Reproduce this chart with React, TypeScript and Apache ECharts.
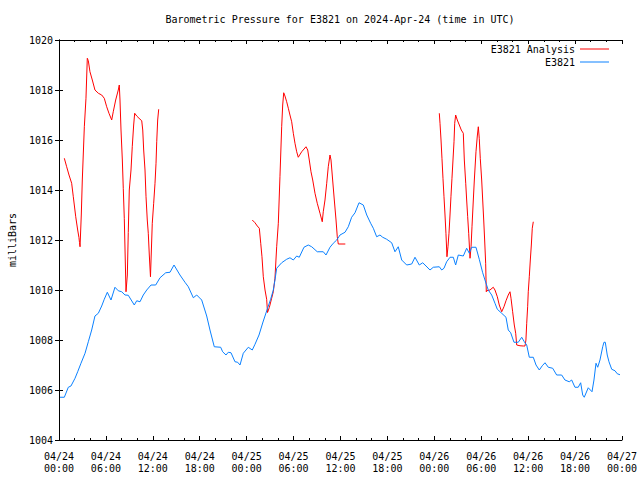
import React, { useEffect, useRef } from "react";
import * as echarts from "echarts";

const chartTitle = "Barometric Pressure for E3821 on 2024-Apr-24 (time in UTC)";
const yAxisTitle = "milliBars";
const seriesNames = ["E3821 Analysis", "E3821"];
const yTicks = [1004, 1006, 1008, 1010, 1012, 1014, 1016, 1018, 1020];

// hours since 2024-04-24 00:00 UTC
const analysisHours: (number | null)[] = [
  0.68, 0.98, 1.28, 1.62, 1.83, 2.14, 2.39, 2.55, 2.62, 2.69, 2.85, 2.98, 3.24, 3.45, 3.62, 3.75, 3.96, 4.26, 4.6, 5.03,
  5.46, 5.79, 6.1, 6.39, 6.74, 6.94, 7.25, 7.58, 7.71, 7.8, 7.93, 8.1, 8.22, 8.35, 8.46, 8.57, 8.74, 8.86, 8.99, 9.21,
  9.37, 9.55, 9.68, 9.94, 10.23, 10.58, 10.71, 10.83, 11.0, 11.13, 11.29, 11.42, 11.55, 11.7, 11.93, 12.11, 12.28, 12.41,
  12.5, 12.62, 12.75,
  null,
  24.72, 25.07, 25.36, 25.62, 25.8, 25.96, 26.13, 26.35, 26.56, 26.67, 26.9, 27.2, 27.41, 27.62, 27.84, 28.05, 28.26,
  28.48, 28.61, 28.74, 28.9, 29.12, 29.33, 29.54, 29.76, 29.97, 30.18, 30.4, 30.6, 31.04, 31.59, 31.81, 32.01, 32.23,
  32.45, 32.74, 33.03, 33.38, 33.67, 33.8, 34.02, 34.24, 34.44, 34.66, 34.79, 35.0, 35.21, 35.43, 35.59, 35.72, 36.62,
  null,
  48.64, 48.73, 48.86, 48.98, 49.11, 49.24, 49.37, 49.49, 49.62, 49.75, 49.88, 50.01, 50.13, 50.26, 50.39, 50.52, 50.61,
  50.73, 50.94, 51.2, 51.45, 51.71, 51.84, 52.02, 52.14, 52.27, 52.4, 52.57, 52.7, 52.82, 52.99, 53.12, 53.33, 53.5,
  53.63, 53.75, 53.88, 54.06, 54.19, 54.32, 54.44, 54.57, 54.65, 54.7, 55.12, 55.54, 55.76, 56.06, 56.31, 56.62, 56.91,
  57.17, 57.46, 57.68, 57.81, 58.02, 58.23, 58.41, 58.54, 58.96, 59.38, 59.6, 59.72, 59.82, 59.94, 60.02, 60.15, 60.28,
  60.41, 60.53, 60.66,
];
const analysisPressure: (number | null)[] = [
  1015.27, 1014.93, 1014.6, 1014.27, 1013.73, 1012.93, 1012.4, 1012.1, 1011.9, 1011.73, 1013.0, 1014.4, 1016.53, 1017.67,
  1019.27, 1019.17, 1018.73, 1018.4, 1018.0, 1017.87, 1017.8, 1017.67, 1017.33, 1017.07, 1016.8, 1017.13, 1017.6, 1018.0,
  1018.2, 1017.6, 1016.4, 1015.2, 1014.07, 1012.87, 1011.4, 1009.93, 1010.6, 1012.3, 1014.0, 1014.8, 1015.73, 1016.6,
  1017.07, 1016.96, 1016.87, 1016.77, 1016.4, 1015.6, 1014.8, 1013.73, 1012.8, 1012.27, 1011.4, 1010.53, 1012.67,
  1013.47, 1014.27, 1015.07, 1015.93, 1016.8, 1017.23,
  null,
  1012.8, 1012.69, 1012.56, 1012.47, 1011.87, 1011.33, 1010.53, 1010.0, 1009.63, 1009.1, 1009.3, 1009.67, 1009.93,
  1010.47, 1011.73, 1012.67, 1014.53, 1016.53, 1017.4, 1017.89, 1017.76, 1017.53, 1017.27, 1017.0, 1016.73, 1016.27,
  1015.87, 1015.53, 1015.31, 1015.53, 1015.73, 1015.6, 1015.2, 1014.73, 1014.4, 1013.87, 1013.47, 1013.07, 1012.73,
  1013.13, 1013.6, 1014.27, 1014.93, 1015.4, 1015.2, 1014.4, 1013.6, 1012.8, 1012.13, 1011.84, 1011.84,
  null,
  1017.07, 1016.67, 1016.0, 1015.27, 1014.47, 1013.73, 1013.0, 1012.27, 1011.33, 1011.73, 1012.27, 1013.0, 1013.73,
  1014.47, 1015.2, 1015.93, 1016.67, 1017.0, 1016.8, 1016.6, 1016.4, 1016.27, 1015.2, 1014.27, 1013.6, 1012.93, 1012.27,
  1011.27, 1011.73, 1012.53, 1013.6, 1014.4, 1015.53, 1016.16, 1016.53, 1016.07, 1015.27, 1014.4, 1013.6, 1012.8,
  1012.0, 1011.07, 1009.93, 1009.97, 1010.0, 1010.11, 1010.0, 1009.73, 1009.4, 1009.13, 1009.33, 1009.57, 1009.8,
  1009.93, 1009.67, 1009.13, 1008.6, 1008.27, 1007.8, 1007.77, 1007.76, 1007.76, 1008.0, 1008.67, 1009.33, 1009.93,
  1010.53, 1011.2, 1011.8, 1012.47, 1012.73,
];

const stationHours: number[] = [
  0.13, 0.68, 1.19, 1.53, 2.05, 2.39, 2.81, 3.33, 3.75, 4.18, 4.6, 5.03, 5.46, 5.79, 6.18, 6.65, 7.16, 7.58, 8.02, 8.44,
  8.86, 9.63, 9.94, 10.36, 10.78, 11.22, 11.77, 12.37, 12.92, 13.65, 14.2, 14.71, 15.47, 16.11, 16.54, 17.18, 17.61,
  18.25, 18.89, 19.31, 19.86, 20.68, 20.93, 21.36, 21.65, 22.0, 22.51, 22.85, 23.15, 23.57, 24.21, 24.72, 25.07, 25.58,
  26.09, 26.6, 27.07, 27.41, 27.62, 27.84, 28.48, 29.12, 29.54, 29.97, 30.4, 30.73, 31.33, 31.88, 32.32, 33.03, 33.8,
  34.15, 34.66, 35.08, 35.52, 35.94, 36.58, 37.0, 37.43, 37.86, 38.37, 38.92, 39.36, 39.86, 40.2, 40.63, 41.05, 41.4,
  41.91, 42.55, 42.97, 43.39, 43.83, 44.47, 45.11, 45.53, 46.08, 46.52, 46.94, 47.45, 47.87, 48.64, 48.95, 49.24, 49.58,
  50.01, 50.43, 50.73, 51.07, 51.71, 52.14, 52.48, 52.78, 53.33, 53.75, 54.19, 54.48, 54.9, 55.34, 55.76, 56.06, 56.62,
  57.17, 57.46, 57.77, 58.19, 58.74, 59.18, 59.51, 59.82, 60.15, 60.66, 61.01, 61.43, 61.81, 62.16, 62.58, 63.14, 63.65,
  64.29, 64.71, 65.26, 65.57, 65.99, 66.41, 66.72, 66.98, 67.18, 67.69, 68.17, 68.42, 68.68, 68.9, 69.19, 69.54, 69.7,
  69.87, 70.12, 70.34, 70.69, 71.11, 71.4, 71.75,
];
const stationPressure: number[] = [
  1005.71, 1005.71, 1006.11, 1006.16, 1006.47, 1006.73, 1007.07, 1007.47, 1007.93, 1008.4, 1008.96, 1009.07, 1009.36,
  1009.63, 1009.91, 1009.6, 1010.11, 1009.97, 1009.93, 1009.8, 1009.79, 1009.4, 1009.57, 1009.53, 1009.8, 1010.0,
  1010.2, 1010.2, 1010.49, 1010.69, 1010.71, 1011.0, 1010.6, 1010.31, 1010.13, 1009.69, 1009.8, 1009.6, 1008.96, 1008.4,
  1007.73, 1007.71, 1007.53, 1007.4, 1007.51, 1007.49, 1007.13, 1007.11, 1007.0, 1007.47, 1007.71, 1007.6, 1007.83,
  1008.2, 1008.72, 1009.2, 1009.63, 1010.0, 1010.4, 1010.87, 1011.09, 1011.23, 1011.29, 1011.2, 1011.36, 1011.31,
  1011.71, 1011.8, 1011.73, 1011.53, 1011.53, 1011.4, 1011.71, 1011.87, 1012.0, 1012.2, 1012.31, 1012.53, 1012.91,
  1013.09, 1013.49, 1013.4, 1013.0, 1012.67, 1012.47, 1012.13, 1012.2, 1012.11, 1012.03, 1011.89, 1011.53, 1011.73,
  1011.2, 1011.0, 1011.04, 1011.31, 1011.0, 1011.09, 1010.96, 1010.8, 1010.91, 1010.93, 1010.8, 1010.87, 1011.13,
  1011.31, 1011.31, 1011.0, 1011.4, 1011.36, 1011.67, 1011.47, 1011.71, 1011.71, 1011.23, 1010.69, 1010.4, 1010.0,
  1009.8, 1009.47, 1009.23, 1009.07, 1008.91, 1008.4, 1008.29, 1007.91, 1007.91, 1008.11, 1007.93, 1007.8, 1007.31,
  1007.31, 1007.0, 1006.8, 1006.97, 1007.09, 1006.91, 1006.87, 1006.6, 1006.6, 1006.4, 1006.33, 1006.4, 1006.11,
  1006.11, 1006.29, 1005.8, 1005.71, 1006.09, 1005.93, 1006.4, 1007.07, 1006.91, 1007.2, 1007.73, 1007.91, 1007.91,
  1007.4, 1007.13, 1006.83, 1006.77, 1006.65, 1006.61,
];

const FONT = "'DejaVu Sans Mono', 'Liberation Mono', monospace";
const RED = "#ff0000";
const BLUE = "#0a80ff";

function timeLabel(h: number): string {
  const day = 24 + Math.floor(h / 24 + 1e-9);
  const hr = Math.round(h - (day - 24) * 24);
  const hh = hr < 10 ? "0" + hr : String(hr);
  return "04/" + day + "\n" + hh + ":00";
}

export default function App() {
  const ref = useRef<HTMLDivElement>(null);
  useEffect(() => {
    if (!ref.current) return;
    const chart = echarts.init(ref.current, undefined, { renderer: "svg" });
    const analysisData = analysisHours.map((h, i) =>
      h === null || analysisPressure[i] === null ? [null, null] : [h, analysisPressure[i]]
    );
    const stationData = stationHours.map((h, i) => [h, stationPressure[i]]);
    const axisLine = { show: true, lineStyle: { color: "#000", width: 1 } };
    const xCommon = {
      type: "value" as const,
      min: 0,
      max: 72,
      interval: 6,
      axisLine,
      splitLine: { show: false },
      axisTick: { show: true, inside: true, length: 4, lineStyle: { color: "#000" } },
      minorTick: { show: true, splitNumber: 3, length: 2, lineStyle: { color: "#000" } },
      minorSplitLine: { show: false },
    };
    const yCommon = {
      type: "value" as const,
      min: yTicks[0],
      max: yTicks[yTicks.length - 1],
      interval: 2,
      axisLine,
      splitLine: { show: false },
      axisTick: { show: true, inside: true, length: 4, lineStyle: { color: "#000" } },
    };
    chart.setOption({
      animation: false,
      backgroundColor: "#fff",
      textStyle: { fontFamily: FONT },
      grid: { left: 59, right: 18, top: 40, bottom: 40 },
      legend: {
        orient: "vertical",
        right: 26,
        top: 38,
        align: "right",
        itemWidth: 29,
        itemHeight: 1,
        itemGap: 1,
        textStyle: { fontFamily: FONT, fontSize: 10, color: "#000", lineHeight: 12 },
        data: [
          { name: seriesNames[0], icon: "rect", itemStyle: { color: RED } },
          { name: seriesNames[1], icon: "rect", itemStyle: { color: BLUE } },
        ],
      },
      xAxis: [
        {
          ...xCommon,
          position: "bottom",
          axisLabel: {
            show: true,
            color: "#000",
            fontFamily: FONT,
            fontSize: 10,
            lineHeight: 12,
            margin: 10,
            formatter: (v: number) => timeLabel(v),
          },
        },
        { ...xCommon, position: "top", axisLabel: { show: false } },
      ],
      yAxis: [
        {
          ...yCommon,
          position: "left",
          axisLabel: {
            show: true,
            color: "#000",
            fontFamily: FONT,
            fontSize: 10,
            margin: 6,
            formatter: (v: number) => String(v),
          },
        },
        { ...yCommon, position: "right", axisLabel: { show: false } },
      ],
      graphic: [
        {
          type: "text",
          x: 340,
          y: 19,
          style: {
            text: chartTitle,
            fill: "#000",
            font: "10px " + FONT,
            textAlign: "center",
            textVerticalAlign: "middle",
          },
        },
        {
          type: "text",
          x: 12,
          y: 240,
          rotation: Math.PI / 2,
          style: {
            text: yAxisTitle,
            fill: "#000",
            font: "10px " + FONT,
            textAlign: "center",
            textVerticalAlign: "middle",
          },
        },
      ],
      series: [
        {
          name: seriesNames[0],
          type: "line",
          data: analysisData,
          showSymbol: false,
          connectNulls: false,
          lineStyle: { color: RED, width: 1 },
          itemStyle: { color: RED },
        },
        {
          name: seriesNames[1],
          type: "line",
          data: stationData,
          showSymbol: false,
          lineStyle: { color: BLUE, width: 1 },
          itemStyle: { color: BLUE },
        },
      ],
    });
    return () => chart.dispose();
  }, []);
  return (
    <div
      ref={ref}
      style={{ position: "fixed", left: 0, top: 0, width: 640, height: 480, background: "#fff" }}
    />
  );
}
